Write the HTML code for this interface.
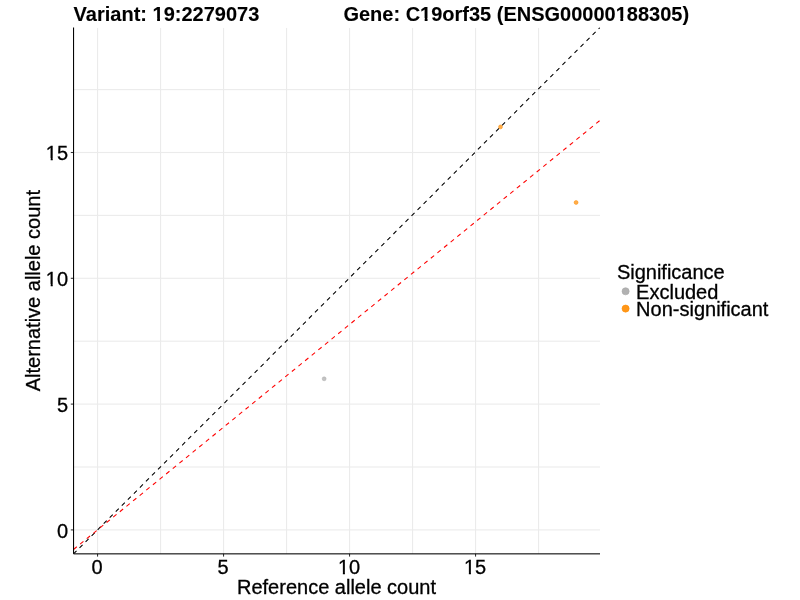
<!DOCTYPE html><html><head><meta charset="utf-8"><style>html,body{margin:0;padding:0;background:#fff;}svg{display:block;will-change:transform;}text{font-family:"Liberation Sans",Arial,Helvetica,sans-serif;font-size:20px;fill:#000;stroke:#000;stroke-width:0.3px;}</style></head><body>
<svg width="800" height="600" viewBox="0 0 800 600">
<rect width="800" height="600" fill="#fff"/>
<g shape-rendering="crispEdges">
<rect x="97" y="27" width="1" height="1" fill="#ebebeb" fill-opacity="0.049"/>
<rect x="97" y="28" width="1" height="525" fill="#ebebeb" fill-opacity="0.984"/>
<rect x="97" y="553" width="1" height="1" fill="#ebebeb" fill-opacity="0.836"/>
<rect x="98" y="27" width="1" height="1" fill="#ebebeb" fill-opacity="0.004"/>
<rect x="98" y="28" width="1" height="525" fill="#ebebeb" fill-opacity="0.084"/>
<rect x="98" y="553" width="1" height="1" fill="#ebebeb" fill-opacity="0.071"/>
<rect x="160" y="27" width="1" height="1" fill="#ebebeb" fill-opacity="0.049"/>
<rect x="160" y="28" width="1" height="525" fill="#ebebeb" fill-opacity="0.983"/>
<rect x="160" y="553" width="1" height="1" fill="#ebebeb" fill-opacity="0.836"/>
<rect x="161" y="27" width="1" height="1" fill="#ebebeb" fill-opacity="0.004"/>
<rect x="161" y="28" width="1" height="525" fill="#ebebeb" fill-opacity="0.084"/>
<rect x="161" y="553" width="1" height="1" fill="#ebebeb" fill-opacity="0.071"/>
<rect x="223" y="27" width="1" height="1" fill="#ebebeb" fill-opacity="0.049"/>
<rect x="223" y="28" width="1" height="525" fill="#ebebeb" fill-opacity="0.983"/>
<rect x="223" y="553" width="1" height="1" fill="#ebebeb" fill-opacity="0.836"/>
<rect x="224" y="27" width="1" height="1" fill="#ebebeb" fill-opacity="0.004"/>
<rect x="224" y="28" width="1" height="525" fill="#ebebeb" fill-opacity="0.084"/>
<rect x="224" y="553" width="1" height="1" fill="#ebebeb" fill-opacity="0.071"/>
<rect x="286" y="27" width="1" height="1" fill="#ebebeb" fill-opacity="0.049"/>
<rect x="286" y="28" width="1" height="525" fill="#ebebeb" fill-opacity="0.983"/>
<rect x="286" y="553" width="1" height="1" fill="#ebebeb" fill-opacity="0.836"/>
<rect x="287" y="27" width="1" height="1" fill="#ebebeb" fill-opacity="0.004"/>
<rect x="287" y="28" width="1" height="525" fill="#ebebeb" fill-opacity="0.084"/>
<rect x="287" y="553" width="1" height="1" fill="#ebebeb" fill-opacity="0.071"/>
<rect x="349" y="27" width="1" height="1" fill="#ebebeb" fill-opacity="0.049"/>
<rect x="349" y="28" width="1" height="525" fill="#ebebeb" fill-opacity="0.983"/>
<rect x="349" y="553" width="1" height="1" fill="#ebebeb" fill-opacity="0.836"/>
<rect x="350" y="27" width="1" height="1" fill="#ebebeb" fill-opacity="0.004"/>
<rect x="350" y="28" width="1" height="525" fill="#ebebeb" fill-opacity="0.084"/>
<rect x="350" y="553" width="1" height="1" fill="#ebebeb" fill-opacity="0.071"/>
<rect x="412" y="27" width="1" height="1" fill="#ebebeb" fill-opacity="0.049"/>
<rect x="412" y="28" width="1" height="525" fill="#ebebeb" fill-opacity="0.983"/>
<rect x="412" y="553" width="1" height="1" fill="#ebebeb" fill-opacity="0.836"/>
<rect x="413" y="27" width="1" height="1" fill="#ebebeb" fill-opacity="0.004"/>
<rect x="413" y="28" width="1" height="525" fill="#ebebeb" fill-opacity="0.084"/>
<rect x="413" y="553" width="1" height="1" fill="#ebebeb" fill-opacity="0.071"/>
<rect x="475" y="27" width="1" height="1" fill="#ebebeb" fill-opacity="0.049"/>
<rect x="475" y="28" width="1" height="525" fill="#ebebeb" fill-opacity="0.983"/>
<rect x="475" y="553" width="1" height="1" fill="#ebebeb" fill-opacity="0.836"/>
<rect x="476" y="27" width="1" height="1" fill="#ebebeb" fill-opacity="0.004"/>
<rect x="476" y="28" width="1" height="525" fill="#ebebeb" fill-opacity="0.084"/>
<rect x="476" y="553" width="1" height="1" fill="#ebebeb" fill-opacity="0.071"/>
<rect x="538" y="27" width="1" height="1" fill="#ebebeb" fill-opacity="0.049"/>
<rect x="538" y="28" width="1" height="525" fill="#ebebeb" fill-opacity="0.984"/>
<rect x="538" y="553" width="1" height="1" fill="#ebebeb" fill-opacity="0.836"/>
<rect x="539" y="27" width="1" height="1" fill="#ebebeb" fill-opacity="0.004"/>
<rect x="539" y="28" width="1" height="525" fill="#ebebeb" fill-opacity="0.083"/>
<rect x="539" y="553" width="1" height="1" fill="#ebebeb" fill-opacity="0.071"/>
<rect x="73" y="529" width="1" height="1" fill="#ebebeb" fill-opacity="0.285"/>
<rect x="73" y="530" width="1" height="1" fill="#ebebeb" fill-opacity="0.195"/>
<rect x="74" y="529" width="526" height="1" fill="#ebebeb" fill-opacity="0.634"/>
<rect x="74" y="530" width="526" height="1" fill="#ebebeb" fill-opacity="0.433"/>
<rect x="73" y="466" width="1" height="1" fill="#ebebeb" fill-opacity="0.240"/>
<rect x="73" y="467" width="1" height="1" fill="#ebebeb" fill-opacity="0.240"/>
<rect x="74" y="466" width="526" height="1" fill="#ebebeb" fill-opacity="0.534"/>
<rect x="74" y="467" width="526" height="1" fill="#ebebeb" fill-opacity="0.534"/>
<rect x="73" y="403" width="1" height="1" fill="#ebebeb" fill-opacity="0.195"/>
<rect x="73" y="404" width="1" height="1" fill="#ebebeb" fill-opacity="0.285"/>
<rect x="74" y="403" width="526" height="1" fill="#ebebeb" fill-opacity="0.434"/>
<rect x="74" y="404" width="526" height="1" fill="#ebebeb" fill-opacity="0.633"/>
<rect x="73" y="340" width="1" height="1" fill="#ebebeb" fill-opacity="0.150"/>
<rect x="73" y="341" width="1" height="1" fill="#ebebeb" fill-opacity="0.330"/>
<rect x="74" y="340" width="526" height="1" fill="#ebebeb" fill-opacity="0.334"/>
<rect x="74" y="341" width="526" height="1" fill="#ebebeb" fill-opacity="0.733"/>
<rect x="73" y="277" width="1" height="1" fill="#ebebeb" fill-opacity="0.105"/>
<rect x="73" y="278" width="1" height="1" fill="#ebebeb" fill-opacity="0.375"/>
<rect x="74" y="277" width="526" height="1" fill="#ebebeb" fill-opacity="0.234"/>
<rect x="74" y="278" width="526" height="1" fill="#ebebeb" fill-opacity="0.833"/>
<rect x="73" y="214" width="1" height="1" fill="#ebebeb" fill-opacity="0.060"/>
<rect x="73" y="215" width="1" height="1" fill="#ebebeb" fill-opacity="0.420"/>
<rect x="74" y="214" width="526" height="1" fill="#ebebeb" fill-opacity="0.134"/>
<rect x="74" y="215" width="526" height="1" fill="#ebebeb" fill-opacity="0.933"/>
<rect x="73" y="151" width="1" height="1" fill="#ebebeb" fill-opacity="0.015"/>
<rect x="73" y="152" width="1" height="1" fill="#ebebeb" fill-opacity="0.450"/>
<rect x="73" y="153" width="1" height="1" fill="#ebebeb" fill-opacity="0.015"/>
<rect x="74" y="151" width="526" height="1" fill="#ebebeb" fill-opacity="0.034"/>
<rect x="74" y="152" width="526" height="1" fill="#ebebeb"/>
<rect x="74" y="153" width="526" height="1" fill="#ebebeb" fill-opacity="0.034"/>
<rect x="73" y="89" width="1" height="1" fill="#ebebeb" fill-opacity="0.420"/>
<rect x="73" y="90" width="1" height="1" fill="#ebebeb" fill-opacity="0.060"/>
<rect x="74" y="89" width="526" height="1" fill="#ebebeb" fill-opacity="0.934"/>
<rect x="74" y="90" width="526" height="1" fill="#ebebeb" fill-opacity="0.133"/>
</g>
<defs><clipPath id="p"><rect x="73.55" y="27.5" width="526.45" height="526.35"/></clipPath></defs>
<g clip-path="url(#p)">
<path d="M73.50 553.90L600.00 27.40" stroke="#000" stroke-width="1.067" stroke-dasharray="4.268 4.268" fill="none"/>
<path d="M73.50 549.47L600.00 120.38" stroke="#f00" stroke-width="1.067" stroke-dasharray="4.268 4.268" fill="none"/>
<circle cx="324.15" cy="378.82" r="1.95" fill="#a9a9a9" fill-opacity="0.7" stroke="#a9a9a9" stroke-opacity="0.7" stroke-width="0.71"/>
<circle cx="500.49" cy="126.91" r="1.95" fill="#ff8c00" fill-opacity="0.7" stroke="#ff8c00" stroke-opacity="0.7" stroke-width="0.71"/>
<circle cx="576.07" cy="202.48" r="1.95" fill="#ff8c00" fill-opacity="0.7" stroke="#ff8c00" stroke-opacity="0.7" stroke-width="0.71"/>
</g>
<g shape-rendering="crispEdges">
<rect x="97" y="553" width="1" height="1" fill="#333333" fill-opacity="0.148"/>
<rect x="97" y="554" width="1" height="2" fill="#333333" fill-opacity="0.984"/>
<rect x="97" y="556" width="1" height="1" fill="#333333" fill-opacity="0.590"/>
<rect x="98" y="553" width="1" height="1" fill="#333333" fill-opacity="0.013"/>
<rect x="98" y="554" width="1" height="2" fill="#333333" fill-opacity="0.084"/>
<rect x="98" y="556" width="1" height="1" fill="#333333" fill-opacity="0.050"/>
<rect x="70" y="529" width="1" height="1" fill="#333333" fill-opacity="0.127"/>
<rect x="70" y="530" width="1" height="1" fill="#333333" fill-opacity="0.087"/>
<rect x="71" y="529" width="2" height="1" fill="#333333" fill-opacity="0.634"/>
<rect x="71" y="530" width="2" height="1" fill="#333333" fill-opacity="0.433"/>
<rect x="73" y="529" width="1" height="1" fill="#333333" fill-opacity="0.348"/>
<rect x="73" y="530" width="1" height="1" fill="#333333" fill-opacity="0.238"/>
<rect x="223" y="553" width="1" height="1" fill="#333333" fill-opacity="0.148"/>
<rect x="223" y="554" width="1" height="2" fill="#333333" fill-opacity="0.983"/>
<rect x="223" y="556" width="1" height="1" fill="#333333" fill-opacity="0.590"/>
<rect x="224" y="553" width="1" height="1" fill="#333333" fill-opacity="0.013"/>
<rect x="224" y="554" width="1" height="2" fill="#333333" fill-opacity="0.084"/>
<rect x="224" y="556" width="1" height="1" fill="#333333" fill-opacity="0.050"/>
<rect x="70" y="403" width="1" height="1" fill="#333333" fill-opacity="0.087"/>
<rect x="70" y="404" width="1" height="1" fill="#333333" fill-opacity="0.127"/>
<rect x="71" y="403" width="2" height="1" fill="#333333" fill-opacity="0.434"/>
<rect x="71" y="404" width="2" height="1" fill="#333333" fill-opacity="0.633"/>
<rect x="73" y="403" width="1" height="1" fill="#333333" fill-opacity="0.238"/>
<rect x="73" y="404" width="1" height="1" fill="#333333" fill-opacity="0.348"/>
<rect x="349" y="553" width="1" height="1" fill="#333333" fill-opacity="0.148"/>
<rect x="349" y="554" width="1" height="2" fill="#333333" fill-opacity="0.983"/>
<rect x="349" y="556" width="1" height="1" fill="#333333" fill-opacity="0.590"/>
<rect x="350" y="553" width="1" height="1" fill="#333333" fill-opacity="0.013"/>
<rect x="350" y="554" width="1" height="2" fill="#333333" fill-opacity="0.084"/>
<rect x="350" y="556" width="1" height="1" fill="#333333" fill-opacity="0.050"/>
<rect x="70" y="277" width="1" height="1" fill="#333333" fill-opacity="0.047"/>
<rect x="70" y="278" width="1" height="1" fill="#333333" fill-opacity="0.167"/>
<rect x="71" y="277" width="2" height="1" fill="#333333" fill-opacity="0.234"/>
<rect x="71" y="278" width="2" height="1" fill="#333333" fill-opacity="0.833"/>
<rect x="73" y="277" width="1" height="1" fill="#333333" fill-opacity="0.128"/>
<rect x="73" y="278" width="1" height="1" fill="#333333" fill-opacity="0.458"/>
<rect x="475" y="553" width="1" height="1" fill="#333333" fill-opacity="0.148"/>
<rect x="475" y="554" width="1" height="2" fill="#333333" fill-opacity="0.983"/>
<rect x="475" y="556" width="1" height="1" fill="#333333" fill-opacity="0.590"/>
<rect x="476" y="553" width="1" height="1" fill="#333333" fill-opacity="0.013"/>
<rect x="476" y="554" width="1" height="2" fill="#333333" fill-opacity="0.084"/>
<rect x="476" y="556" width="1" height="1" fill="#333333" fill-opacity="0.050"/>
<rect x="70" y="151" width="1" height="1" fill="#333333" fill-opacity="0.007"/>
<rect x="70" y="152" width="1" height="1" fill="#333333" fill-opacity="0.200"/>
<rect x="70" y="153" width="1" height="1" fill="#333333" fill-opacity="0.007"/>
<rect x="71" y="151" width="2" height="1" fill="#333333" fill-opacity="0.034"/>
<rect x="71" y="152" width="2" height="1" fill="#333333"/>
<rect x="71" y="153" width="2" height="1" fill="#333333" fill-opacity="0.034"/>
<rect x="73" y="151" width="1" height="1" fill="#333333" fill-opacity="0.018"/>
<rect x="73" y="152" width="1" height="1" fill="#333333" fill-opacity="0.550"/>
<rect x="73" y="153" width="1" height="1" fill="#333333" fill-opacity="0.018"/>
<rect x="73" y="27" width="1" height="1" fill="#000000" fill-opacity="0.492"/>
<rect x="73" y="28" width="1" height="525" fill="#000000" fill-opacity="0.984"/>
<rect x="73" y="553" width="1" height="1" fill="#000000" fill-opacity="0.836"/>
<rect x="74" y="27" width="1" height="1" fill="#000000" fill-opacity="0.042"/>
<rect x="74" y="28" width="1" height="525" fill="#000000" fill-opacity="0.084"/>
<rect x="74" y="553" width="1" height="1" fill="#000000" fill-opacity="0.071"/>
<rect x="73" y="553" width="1" height="1" fill="#000000" fill-opacity="0.308"/>
<rect x="73" y="554" width="1" height="1" fill="#000000" fill-opacity="0.173"/>
<rect x="74" y="553" width="526" height="1" fill="#000000" fill-opacity="0.683"/>
<rect x="74" y="554" width="526" height="1" fill="#000000" fill-opacity="0.384"/>
</g>
<text x="97.10" y="574" text-anchor="middle">0</text>
<text x="68.05" y="538" text-anchor="end">0</text>
<text x="223.10" y="574" text-anchor="middle">5</text>
<text x="68.05" y="412" text-anchor="end">5</text>
<text x="349.10" y="574" text-anchor="middle">10</text>
<text x="68.05" y="286" text-anchor="end">10</text>
<text x="475.10" y="574" text-anchor="middle">15</text>
<text x="68.05" y="160" text-anchor="end">15</text>
<text x="336.5" y="594" text-anchor="middle">Reference allele count</text>
<text transform="translate(39.6 290.65) rotate(-90)" text-anchor="middle">Alternative allele count</text>
<text x="73.6" y="21" font-weight="bold" style="stroke-width:0.1px">Variant: 19:2279073</text>
<text x="343.4" y="21" font-weight="bold" style="stroke-width:0.1px">Gene: C19orf35 (ENSG00000188305)</text>
<text x="616.9" y="279">Significance</text>
<circle cx="625.6" cy="291.3" r="3.55" fill="#a9a9a9" fill-opacity="0.9" stroke="#a9a9a9" stroke-opacity="0.9" stroke-width="0.71"/>
<circle cx="625.6" cy="308.6" r="3.55" fill="#ff8c00" fill-opacity="0.9" stroke="#ff8c00" stroke-opacity="0.9" stroke-width="0.71"/>
<text x="636.1" y="299">Excluded</text>
<text x="636.1" y="316">Non-significant</text>
<rect x="338.70" y="572" width="4.16" height="3" fill="#fff"/>
<rect x="344.93" y="572" width="4.00" height="3" fill="#fff"/>
<rect x="46.52" y="284" width="4.16" height="3" fill="#fff"/>
<rect x="52.75" y="284" width="4.00" height="3" fill="#fff"/>
<rect x="464.70" y="572" width="4.16" height="3" fill="#fff"/>
<rect x="470.93" y="572" width="4.00" height="3" fill="#fff"/>
<rect x="46.52" y="158" width="4.16" height="3" fill="#fff"/>
<rect x="52.75" y="158" width="4.00" height="3" fill="#fff"/>
<rect x="152.97" y="18" width="4.16" height="4" fill="#fff"/>
<rect x="159.97" y="18" width="3.91" height="4" fill="#fff"/>
<rect x="420.53" y="18" width="4.16" height="4" fill="#fff"/>
<rect x="427.53" y="18" width="3.91" height="4" fill="#fff"/>
<rect x="616.20" y="18" width="4.16" height="4" fill="#fff"/>
<rect x="623.20" y="18" width="3.91" height="4" fill="#fff"/>
</svg></body></html>
